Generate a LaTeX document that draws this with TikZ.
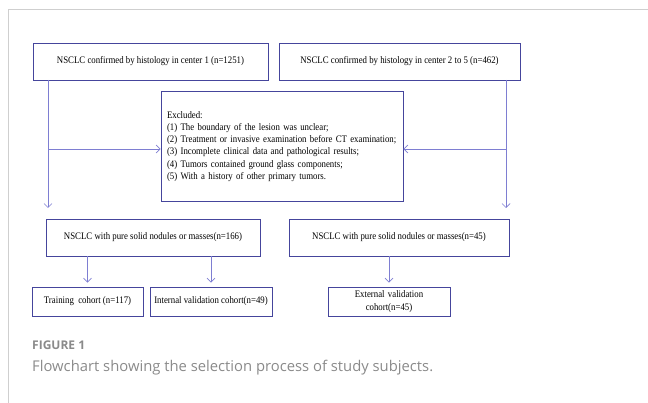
\documentclass[tikz,border=0pt]{standalone}
\usepackage{fontspec}
\setmainfont{Liberation Serif}[FakeStretch=0.88]
\newfontfamily\capfont{Open Sans}
\usetikzlibrary{arrows.meta}
\definecolor{boxline}{HTML}{45459C}
\definecolor{arrline}{HTML}{7E7ED2}
\definecolor{frame}{HTML}{CFCFCF}
\definecolor{captext}{HTML}{8A8A8A}
\tikzset{
  box/.style={draw=boxline,line width=0.9pt,inner sep=2pt,font=\fontsize{10}{12.2}\selectfont},
  arr/.style={draw=arrline,line width=0.7pt,-{Straight Barb[length=4pt,width=8pt]}},
  link/.style={draw=arrline,line width=0.7pt}
}
\begin{document}
\begin{tikzpicture}[x=1pt,y=-1pt]
\useasboundingbox (0,0) rectangle (648,403);

\draw[frame,line width=1pt] (8.5,403) -- (8.5,9.5) -- (648,9.5);

\draw (150.5,61.5) node(CENTER1)[box,minimum width=235,minimum height=37]{NSCLC confirmed by histology in center 1 (n=1251)};
\draw (399.5,61.5) node(CENTER25)[box,minimum width=241,minimum height=37]{NSCLC confirmed by histology in center 2 to 5 (n=462)};
\draw (282,146.5) node(EXCL)[box,minimum width=242,minimum height=110,text width=230,align=left]{Excluded:\\
(1) The boundary of the lesion was unclear;\\
(2) Treatment or invasive examination before CT examination;\\
(3) Incomplete clinical data and pathological results;\\
(4) Tumors contained ground glass components;\\
(5) With a history of other primary tumors.};
\draw (153,237.5) node(SOLID1)[box,minimum width=214,minimum height=37]{NSCLC with pure solid nodules or masses(n=166)};
\draw (399,237.5) node(SOLID2)[box,minimum width=220,minimum height=37]{NSCLC with pure solid nodules or masses(n=45)};
\draw (87.5,301.5) node(TRAIN)[box,minimum width=111,minimum height=29]{Training\ \ cohort (n=117)};
\draw (211,301.5) node(INTVAL)[box,minimum width=122,minimum height=29]{Internal validation cohort(n=49)};
\draw (389,301.5) node(EXTVAL)[box,minimum width=122,minimum height=29,text width=116,align=center,font=\fontsize{10}{13}\selectfont]{External validation\\ cohort(n=45)};

\coordinate (LTOP) at (48,80);
\coordinate (LMID) at (48,149);
\coordinate (LEND) at (48,208);
\coordinate (RTOP) at (506,80);
\coordinate (RMID) at (506,149);
\coordinate (REND) at (506,208);

\draw[link] (LTOP) -- (LMID);
\draw[arr] (LMID) -- (LEND);
\draw[arr] (LMID) -- (EXCL.west |- LMID);
\draw[link] (RTOP) -- (RMID);
\draw[arr] (RMID) -- (REND);
\draw[arr] (RMID) -- (EXCL.east |- RMID);

\draw[arr,shorten >=4pt] (SOLID1.south -| TRAIN) -- (TRAIN.north);
\draw[arr,shorten >=4pt] (SOLID1.south -| INTVAL) -- (INTVAL.north);
\draw[arr,shorten >=4pt] (SOLID2.south -| EXTVAL) -- (EXTVAL.north);

\draw (32,345) node(FIG)[anchor=west,inner sep=0pt,text=captext,font=\capfont\bfseries\fontsize{12}{14}\selectfont]{FIGURE 1};
\draw (32,368) node(CAP)[anchor=west,inner sep=0pt,text=captext,font=\capfont\fontsize{14.8}{18}\selectfont]{Flowchart showing the selection process of study subjects.};

\end{tikzpicture}
\end{document}
